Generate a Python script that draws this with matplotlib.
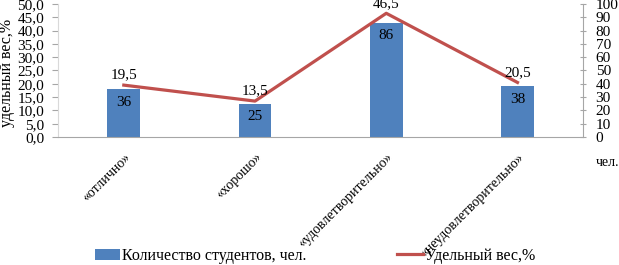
import matplotlib
matplotlib.use('Agg')
import matplotlib.pyplot as plt
import numpy as np

plt.rcParams['font.family'] = ['Liberation Serif', 'DejaVu Serif']

categories = ['«отлично»', '«хорошо»', '«удовлетворительно»', '«неудовлетворительно»']
students = [36, 25, 86, 38]          # количество студентов, чел.
share = [19.5, 13.5, 46.5, 20.5]     # удельный вес, %

bar_color = '#4F81BD'
line_color = '#C0504D'
grey = '#A6A6A6'

fig = plt.figure(figsize=(6.19, 2.65), dpi=100)
ax = fig.add_axes([0.094, 0.483, 0.848, 0.502])
ax2 = ax.twinx()

x = np.arange(len(categories))

# столбцы по правой оси (чел.)
bars = ax2.bar(x, students, width=0.25, color=bar_color, label='Количество студентов, чел.')
ax2.set_ylim(0, 100)
ax2.set_yticks(np.arange(0, 101, 10))
for xi, v in zip(x, students):
    ax2.annotate(str(v), (xi, v), xytext=(0, -13), textcoords='offset pixels',
                 ha='center', va='center', fontsize=11)

# линия по левой оси (%)
ax.set_zorder(ax2.get_zorder() + 1)
ax.patch.set_visible(False)
line, = ax.plot(x, share, color=line_color, lw=2.3, label='Удельный вес,%')
ax.set_ylim(0, 50)
ax.set_yticks(np.arange(0, 50.1, 5))
ax.set_yticklabels([f'{t:.1f}'.replace('.', ',') for t in np.arange(0, 50.1, 5)])
for xi, v in zip(x, share):
    ax.annotate(f'{v:.1f}'.replace('.', ','), (xi, v), xytext=(0, 10), textcoords='offset pixels',
                ha='center', va='center', fontsize=11, annotation_clip=False)

ax.set_xlim(-0.5, len(categories) - 0.5)
ax.set_xticks(x)
ax.set_xticklabels(categories, rotation=45, ha='right', rotation_mode='anchor', fontsize=10)
ax.tick_params(axis='x', length=0, pad=10)
ax.tick_params(axis='y', labelsize=11, color=grey, length=4, pad=6)
ax2.tick_params(axis='y', labelsize=11, color=grey, length=4, pad=7, direction='inout')

for a in (ax, ax2):
    a.spines['top'].set_visible(False)
    a.spines['bottom'].set_color(grey)
    a.spines['right'].set_color(grey)
    a.spines['left'].set_color('#D9D9D9')
ax.spines['right'].set_visible(False)
ax2.spines['bottom'].set_visible(False)
ax2.spines['left'].set_visible(False)

ax.set_ylabel('удельный вес,%', fontsize=11.5)
ax.yaxis.set_label_coords(-0.083, 0.48)
fig.text(0.981, 0.385, 'чел.', fontsize=10, ha='center', va='center')

fig.legend([bars, line], ['Количество студентов, чел.', 'Удельный вес,%'],
           loc='lower left', bbox_to_anchor=(0.13, -0.05), ncol=2, frameon=False,
           fontsize=11.5, handlelength=1.6, handletextpad=0.1, columnspacing=5.7)

fig.savefig('out.png', dpi=100)
